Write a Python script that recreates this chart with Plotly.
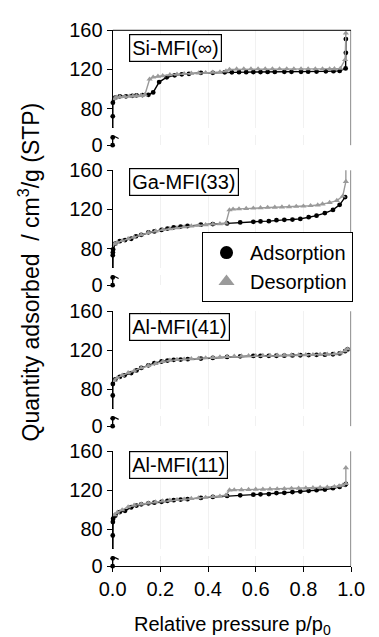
import plotly.graph_objects as go

# ---------------- data ----------------
labels = ["Si-MFI(∞)", "Ga-MFI(33)", "Al-MFI(41)", "Al-MFI(11)"]

si_ads_p = [0.0, 0.0003, 0.0006, 0.001, 0.011, 0.03, 0.056, 0.082, 0.10, 0.125, 0.15, 0.17, 0.195, 0.227, 0.26, 0.29,
            0.32, 0.37, 0.42, 0.47, 0.50, 0.53, 0.56, 0.59, 0.62, 0.65, 0.68, 0.72, 0.75, 0.79, 0.82, 0.855,
            0.894, 0.926, 0.952, 0.977, 0.978, 0.978]
si_ads_v = [0, 8, 72, 86, 91, 92.5, 92.5, 93, 93.5, 93.7, 94, 96.5, 107, 112, 114, 115,
            115.5, 116.5, 116.5, 117, 117, 117.2, 117.2, 117.3, 117.3, 117.4, 117.4, 117.5, 117.5, 117.6, 117.7, 117.8,
            118, 118.2, 118.5, 121, 137, 151]
si_des_p = [0.978, 0.975, 0.955, 0.93, 0.91, 0.88, 0.85, 0.82, 0.79, 0.76, 0.73, 0.70, 0.67, 0.64, 0.61, 0.58,
            0.55, 0.52, 0.49, 0.475, 0.45, 0.42, 0.39, 0.36, 0.33, 0.30, 0.27, 0.24, 0.21, 0.19, 0.17, 0.155,
            0.135, 0.12, 0.10, 0.085, 0.07, 0.05, 0.03, 0.015, 0.008]
si_des_v = [157, 130, 121, 120.6, 120.5, 120.5, 120.5, 120.5, 120.5, 120.5, 120.5, 120.5, 120.5, 120.5, 120.5, 120.5,
            120.5, 120.3, 120, 118.3, 117.3, 117, 116.7, 116.3, 116, 115.6, 115, 114.5, 113.5, 113, 112, 110,
            94, 93.3, 93, 92.8, 92.5, 92.2, 92, 91.5, 90]

ga_ads_p = [0.0, 0.0003, 0.0006, 0.001, 0.002, 0.011, 0.03, 0.052, 0.078, 0.098, 0.12, 0.15, 0.175, 0.205, 0.23,
            0.256, 0.285, 0.314, 0.37, 0.42, 0.48, 0.535, 0.59, 0.62, 0.655, 0.687, 0.72, 0.754, 0.787, 0.822,
            0.855, 0.89, 0.924, 0.952, 0.975]
ga_ads_v = [0, 8, 73, 76, 79, 85, 87.5, 88.6, 90, 92.5, 94, 96.5, 97.5, 99, 100.4,
            101.7, 102.4, 103, 104.4, 105, 105.7, 106.7, 107.3, 107.7, 108, 109, 109.3, 109.6, 110.3, 112,
            113.6, 116.2, 119.5, 124.7, 132.6]
ga_des_p = [0.978, 0.978, 0.965, 0.94, 0.91, 0.88, 0.86, 0.83, 0.80, 0.77, 0.74, 0.71, 0.68, 0.65, 0.62, 0.59,
            0.56, 0.53, 0.505, 0.49, 0.475, 0.45, 0.42, 0.39, 0.36, 0.33, 0.30, 0.27, 0.24, 0.21, 0.18, 0.15,
            0.12, 0.09, 0.065, 0.04, 0.02, 0.008]
ga_des_v = [163, 148.5, 133.5, 129, 127, 125.5, 124.5, 123.8, 123.3, 123, 122.7, 122.4, 122.2, 122, 121.6, 121.2,
            120.8, 120.5, 120.2, 119.5, 106, 105.3, 104.9, 104.3, 103.6, 102.9, 102.1, 101.2, 100.2, 99.2, 97.8, 96.3,
            94, 91.5, 90, 88, 86.3, 84.5]

a41_ads_p = [0.0, 0.0003, 0.0006, 0.001, 0.011, 0.03, 0.05, 0.078, 0.10, 0.12, 0.15, 0.175, 0.205, 0.23, 0.256,
             0.285, 0.315, 0.37, 0.42, 0.48, 0.535, 0.59, 0.62, 0.655, 0.687, 0.72, 0.754, 0.787, 0.822, 0.855,
             0.89, 0.924, 0.952, 0.975, 0.985]
a41_ads_v = [0, 8, 73.8, 85.6, 90.2, 92.8, 94.5, 96.8, 99.5, 102, 104.7, 107, 108.6, 109.6, 110.3,
             110.6, 111, 111.6, 112.3, 113.3, 113.9, 114.3, 114.3, 114.4, 114.5, 114.6, 114.8, 115, 115.2, 115.4,
             115.6, 116, 116.9, 119.2, 121]
a41_des_p = [0.985, 0.975, 0.955, 0.93, 0.90, 0.87, 0.84, 0.81, 0.78, 0.75, 0.72, 0.69, 0.66, 0.63, 0.60, 0.57,
             0.54, 0.51, 0.48, 0.45, 0.42, 0.39, 0.36, 0.33, 0.30, 0.27, 0.24, 0.21, 0.18, 0.15, 0.12, 0.09,
             0.065, 0.04, 0.02, 0.008]
a41_des_v = [121.5, 119.5, 117.3, 116.3, 116, 115.8, 115.6, 115.5, 115.3, 115.2, 115, 114.9, 114.8, 114.7, 114.6, 114.4,
             114.2, 114, 113.6, 113.2, 112.7, 112.3, 111.8, 111.4, 111, 110.6, 109.8, 108.5, 106.5, 104.5, 102, 99,
             97, 94.5, 92, 89]

a11_ads_p = [0.0, 0.0003, 0.0006, 0.001, 0.002, 0.011, 0.03, 0.052, 0.078, 0.10, 0.12, 0.15, 0.175, 0.205, 0.23,
             0.256, 0.285, 0.314, 0.37, 0.42, 0.48, 0.535, 0.59, 0.62, 0.655, 0.687, 0.72, 0.754, 0.787, 0.822,
             0.855, 0.89, 0.924, 0.952, 0.975, 0.978]
a11_ads_v = [0, 8, 73.8, 87.6, 91, 94.1, 97.8, 99.1, 102.7, 104.4, 105.7, 106.7, 107.4, 108.3, 109.3,
             110, 110.6, 111, 112.3, 113.3, 114.3, 114.9, 115.6, 115.9, 116.2, 117.2, 117.5, 118.2, 118.8, 119.5,
             120.2, 120.8, 122.2, 123.5, 125.7, 126.5]
a11_des_p = [0.978, 0.978, 0.965, 0.95, 0.93, 0.90, 0.87, 0.84, 0.81, 0.78, 0.75, 0.72, 0.69, 0.66, 0.63, 0.60,
             0.57, 0.54, 0.51, 0.49, 0.475, 0.45, 0.42, 0.39, 0.36, 0.33, 0.30, 0.27, 0.24, 0.21, 0.18, 0.15,
             0.12, 0.09, 0.065, 0.04, 0.02, 0.008]
a11_des_v = [143, 127, 125.3, 124.5, 123.8, 123.2, 122.9, 122.6, 122.3, 122.1, 121.9, 121.7, 121.5, 121.3, 121.1, 121,
             120.8, 120.6, 120.4, 120.3, 115, 114, 113.5, 112.8, 112.2, 111.6, 111, 110.4, 109.8, 109, 108, 107,
             106, 104.7, 103, 100, 97.5, 95]

ads_p = [si_ads_p, ga_ads_p, a41_ads_p, a11_ads_p]
ads_v = [si_ads_v, ga_ads_v, a41_ads_v, a11_ads_v]
des_p = [si_des_p, ga_des_p, a41_des_p, a11_des_p]
des_v = [si_des_v, ga_des_v, a41_des_v, a11_des_v]

x_ticks = [0.0, 0.2, 0.4, 0.6, 0.8, 1.0]
upper_ticks = [80, 120, 160]
lower_ticks = [0]
upper_range = [60, 160]
lower_range = [0, 10]

# ---------------- layout geometry ----------------
W, H = 379, 637
FONT = "Liberation Sans, Arial, sans-serif"
BLACK = "#000000"
GREY = "#9a9a9a"
tops = [20, 165, 311, 456]          # pixel row of the 160 tick in each panel


def yp(py):
    return 1 - py / H


xdom = [106.5 / W, 364 / W]

fig = go.Figure()
layout = dict(
    width=W, height=H, margin=dict(l=0, r=0, t=0, b=0),
    paper_bgcolor="white", plot_bgcolor="white",
    font=dict(family=FONT, size=20, color=BLACK),
    showlegend=True, hovermode=False,
)

layout["xaxis"] = dict(
    domain=xdom, range=[0, 1], anchor="y8",
    showline=True, linecolor=BLACK, linewidth=1,
    ticks="outside", ticklen=5, tickcolor=BLACK, tickwidth=1,
    tickvals=x_ticks, ticktext=[f"{v:.1f}" for v in x_ticks],
    tickfont=dict(size=20, family=FONT),
    showgrid=True, gridcolor="#f1f1f1", gridwidth=1, zeroline=False,
)

shapes = []
annotations = []
for i in range(4):
    T = tops[i]
    up_id = 2 * i + 1
    lo_id = 2 * i + 2
    up_name = "yaxis" if up_id == 1 else f"yaxis{up_id}"
    lo_name = f"yaxis{lo_id}"
    common = dict(anchor="x", showline=True, linecolor=BLACK, linewidth=1,
                  ticks="outside", ticklen=5, tickcolor=BLACK, tickwidth=1,
                  tickfont=dict(size=20, family=FONT), showgrid=False, zeroline=False)
    layout[up_name] = dict(domain=[yp(T + 101.25), yp(T)], range=upper_range,
                           tickvals=upper_ticks, **common)
    layout[lo_name] = dict(domain=[yp(T + 119), yp(T + 108.9)], range=lower_range,
                           tickvals=lower_ticks, **common)

    up_ref = "y" if up_id == 1 else f"y{up_id}"
    lo_ref = f"y{lo_id}"
    for yref in (up_ref, lo_ref):
        fig.add_trace(go.Scatter(
            x=ads_p[i], y=ads_v[i], xaxis="x", yaxis=yref, mode="lines+markers",
            line=dict(color=BLACK, width=1.4),
            marker=dict(symbol="circle", size=4.8, color=BLACK),
            cliponaxis=False, showlegend=False))
        fig.add_trace(go.Scatter(
            x=des_p[i], y=des_v[i], xaxis="x", yaxis=yref, mode="lines+markers",
            line=dict(color=GREY, width=1.4),
            marker=dict(symbol="triangle-up", size=5.5, color=GREY),
            cliponaxis=False, showlegend=False))

    # right frame line
    shapes.append(dict(type="line", xref="x", yref="paper", x0=1, x1=1,
                       y0=yp(T + 119), y1=yp(T), line=dict(color=BLACK, width=1)))
    # axis-break marks
    for yref, anchor in ((up_ref, upper_range[0]), (lo_ref, lower_range[1])):
        shapes.append(dict(type="line", xref="x", xsizemode="pixel", xanchor=0, x0=-6, x1=6,
                           yref=yref, ysizemode="pixel", yanchor=anchor, y0=3, y1=-3,
                           line=dict(color=BLACK, width=1.2)))

# top frame line on first panel
shapes.append(dict(type="line", xref="x", yref="y domain", x0=0, x1=1, y0=1, y1=1,
                   line=dict(color=BLACK, width=1)))

label_centers = [38, 177, 327, 470]
for i, lab in enumerate(labels):
    annotations.append(dict(
        text=lab, xref="paper", yref="paper", x=124 / W, y=yp(label_centers[i]),
        xanchor="left", yanchor="middle", showarrow=False,
        font=dict(size=20, family=FONT, color=BLACK),
        bordercolor=BLACK, borderwidth=1.2, borderpad=2, bgcolor="white"))

annotations.append(dict(
    text="Quantity adsorbed  / cm<sup>3</sup>/g (STP)", xref="paper", yref="paper",
    x=16 / W, y=yp(270), textangle=-90, showarrow=False,
    xanchor="center", yanchor="middle", font=dict(size=23, family=FONT, color=BLACK)))
annotations.append(dict(
    text="Relative pressure p/p<sub>0</sub>", xref="paper", yref="paper",
    x=236 / W, y=yp(636), showarrow=False,
    xanchor="center", yanchor="middle", font=dict(size=20, family=FONT, color=BLACK)))

# legend entries
fig.add_trace(go.Scatter(x=[None], y=[None], xaxis="x", yaxis="y", mode="markers", name="Adsorption",
                         marker=dict(symbol="circle", size=13, color=BLACK)))
fig.add_trace(go.Scatter(x=[None], y=[None], xaxis="x", yaxis="y", mode="markers", name="Desorption",
                         marker=dict(symbol="triangle-up", size=14, color=GREY)))

layout["legend"] = dict(x=203 / W, y=yp(229), xanchor="left", yanchor="top",
                        bordercolor=BLACK, borderwidth=1, bgcolor="white",
                        font=dict(size=20, family=FONT, color=BLACK),
                        tracegroupgap=0, itemwidth=37)
layout["shapes"] = shapes
layout["annotations"] = annotations
fig.update_layout(**layout)
fig.write_html("out.html")
